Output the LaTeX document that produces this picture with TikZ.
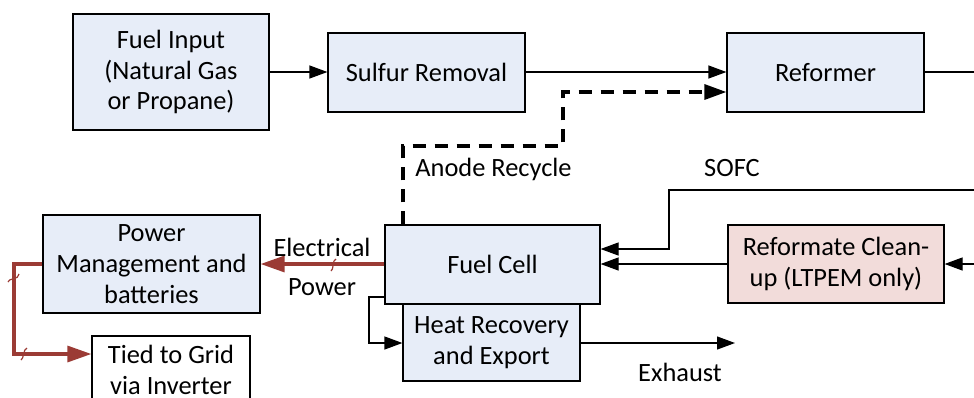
\documentclass[tikz,border=0pt]{standalone}
\usepackage{fontspec}
\setmainfont{Carlito}
\usetikzlibrary{arrows.meta}
\definecolor{boxblue}{HTML}{E7EDF8}
\definecolor{boxpink}{HTML}{F2DCDA}
\definecolor{pwr}{HTML}{9B3B35}
\tikzset{
  txt/.style={font=\fontsize{13.2}{15.4}\selectfont},
  blk/.style={txt, draw=black, line width=0.6pt, fill=boxblue, align=center, inner sep=0pt},
  lbl/.style={txt, inner sep=0pt},
  flow/.style={line width=0.6pt, -{Triangle[length=9pt,width=6.5pt]}},
  recyc/.style={line width=1.6pt, dash pattern=on 6.5pt off 4.5pt, -{Triangle[length=11pt,width=7.5pt]}},
  power/.style={draw=pwr, line width=1.6pt, -{Triangle[length=12pt,width=8pt]}},
  jump/.style={draw=pwr, line width=0.6pt}
}
\begin{document}
\begin{tikzpicture}[x=0.5pt,y=-0.5pt]
\clip (0,0) rectangle (974,397);
% boxes
\node[blk, minimum width=98pt, minimum height=58pt] (fuel) at (171,72) {Fuel Input\\(Natural Gas\\or Propane)};
\node[blk, minimum width=98.5pt, minimum height=39.5pt] (sulfur) at (426.5,72.5) {Sulfur Removal};
\node[blk, minimum width=98.5pt, minimum height=39.5pt] (reformer) at (825.5,72.5) {Reformer};
\node[blk, minimum width=107.5pt, minimum height=39.5pt] (fc) at (492.5,264.5) {Fuel Cell};
\node[blk, minimum width=88.5pt, minimum height=38.5pt] (heat) at (491.5,342.5) {Heat Recovery\\and Export};
\node[blk, fill=boxpink, minimum width=108pt, minimum height=39pt] (clean) at (836,264) {Reformate Clean-\\up (LTPEM only)};
\node[blk, minimum width=108.5pt, minimum height=49pt] (pm) at (151.5,264) {Power\\Management and\\batteries};
\node[blk, fill=white, minimum width=79pt, minimum height=42pt] (grid) at (171,378) {};
\node[lbl, align=center] (gridtxt) at (171,370) {Tied to Grid\\via Inverter};
% coordinates
\coordinate (refout) at (974,72);
\coordinate (sofcin) at (974,190);
\coordinate (cleanin) at (974,264);
\coordinate (exh) at (735,343);
% flows
\draw[flow] (fuel.east |- 0,72) -- (sulfur.west |- 0,72);
\draw[flow] (sulfur.east |- 0,72) -- (reformer.west |- 0,72);
\draw[line width=0.6pt] (reformer.east |- refout) -- (refout);
\draw[recyc] (fc.north -| 403,0) -- (403,146) -- (563,146) -- (563,92) -- (reformer.west |- 0,92);
\draw[flow] (sofcin) -- (669,190) -- (669,249) -- (fc.east |- 0,249);
\draw[flow] (clean.west |- 0,264) -- (fc.east |- 0,264);
\draw[flow] (cleanin) -- (clean.east |- cleanin);
\draw[flow] (fc.west |- 0,297) -- (369,297) -- (369,343) -- (heat.west |- 0,343);
\draw[flow] (heat.east |- exh) -- (exh);
\draw[power] (fc.west |- 0,264) -- (pm.east |- 0,264);
\draw[power] (pm.west |- 0,264) -- (14,264) -- (14,354) -- (grid.west |- 0,354);
% jump marks
\draw[jump] (331,271) .. controls (334,270) and (332,260) .. (336,259);
\draw[jump] (8,282) .. controls (8,278) and (19,280) .. (19,274);
\draw[jump] (21,360) .. controls (24,359) and (23,349) .. (27,348);
% labels
\node[lbl, anchor=west] (anode) at (415,169) {Anode Recycle};
\node[lbl] (sofc) at (732,168) {SOFC};
\node[lbl] (exhaust) at (680,372) {Exhaust};
\node[lbl] (elec) at (322,247) {Electrical};
\node[lbl] (pwrl) at (322,287) {Power};
\end{tikzpicture}
\end{document}
